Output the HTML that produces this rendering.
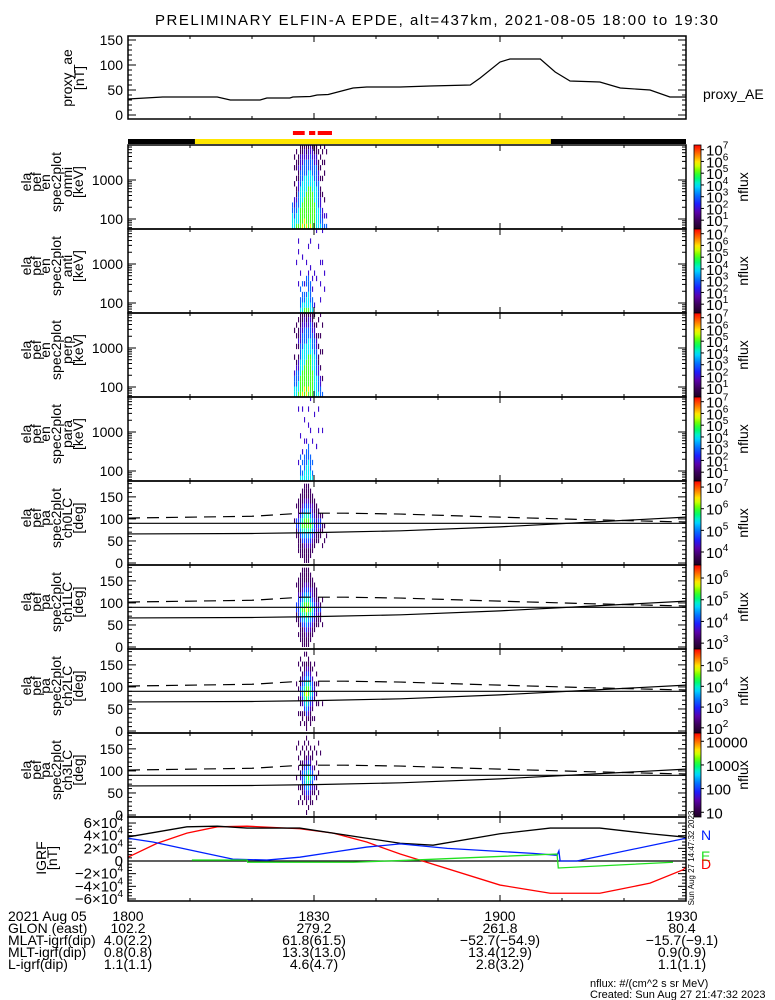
<!DOCTYPE html>
<html><head><meta charset="utf-8"><style>
html,body{margin:0;padding:0;background:#fff;width:775px;height:1000px;overflow:hidden}
svg{display:block;font-family:"Liberation Sans",sans-serif}
</style></head><body>
<svg id="chart" xmlns="http://www.w3.org/2000/svg" width="775" height="1000" viewBox="0 0 775 1000"></svg>
<script>
// ---------- DATA ----------
const aeTimes = [0,5.6,14.4,16.5,21.3,22.4,26.1,26.6,29.4,30.5,32.3,36.3,38.5,43.9,48.7,55.2,56.8,60,61.6,66.5,68.9,71.3,76.1,79.4,84.2,87.4,90];
const aeValues = [32,36,36,30,30,34,34,36,37,40,41,54,56,56,58,60,74,106,112,112,86,68,66,54,50,36,36];
const aeTicks = [0,50,100,150];
const dayNightTimes = [0,10.8,68.2,90];
const dayNightStates = ['night','day','night'];
const sciZoneStart = [26.6,29.2,30.6];
const sciZoneEnd = [28.5,30.2,32.9];
const colTimes = [26.45,26.77,27.10,27.42,27.74,28.06,28.39,28.71,29.03,29.35,29.68,30.00,30.32,30.65,30.97,31.29,31.61,31.94];
const energyEdges = [55,75,103,141,193,265,363,498,682,935,1282,1758,2410,3304,4530,6210,8514];
const paEdges = [0,11.25,22.5,33.75,45,56.25,67.5,78.75,90,101.25,112.5,123.75,135,146.25,157.5,168.75,180];
// energy spectra: each string = one time column, chars top(high E) to bottom(low E), digit = log10(nflux)
const specOmni = ["...........33444","..1.1..1..223344",".1.11.1.11233445","..11211223334445","1122233344445555","1122333444455556","1223334444555565","1123334445555556","1223344455555555","2233344455555556","1223334445555555","1122333444455555","1122333344444444",".1.1122333334444","1.1.1.1.11223334",".1.1..1..1..2233","1..1.1....1..2.3",".1...........2.3"];
const specAnti = ["................","................","......2.........","..2.2.....2.....","........2..3.334",".....2....3.3344","..........2.3345","......2..33.3445","...2....23334445","..2....2..333344",".........2.2.334","........2.....2.","2........2......","...2............","......2...2..2..","2.....2.........","........2..2....","................"];
const specPerp = ["................","...1....1..23344","..1.1.1..1233344",".1.1121.12233445","1112223334445555","1122333444455556","1223334444555565","1123334445555556","1223344455555565","1233344455555555","1122333444455555","1.12233344444444","..1.122333334444",".1..1.1.11223334","1...1..1..1.2233","..1....1....1..3","................","................"];
const specPara = ["................","................","................","..2.........2...",".......2...3.334","..2.......2.3.34","....2...2..33344","........2.333444","..2..2...3334444","2.....2....33344","........2...3.34","...2............",".........2......","..2...2.........","................","......2.........","................","................"];
// pitch-angle spectra: chars top(180deg) to bottom(0deg), digit = position on panel colour scale (d/9)
const paCh0 = ["................",".......1........","....1..3311.....","...11123331111..","..1112345431111.",".11123456543111.","1112345665432111","1112345665432111","1112345665432111",".11123456543211.","..112234543211..","...1112333211...","....11122211....",".....1233211....","......13311.....","......1.11..1...","........1..1....","..........1....."];
const paCh1 = ["................","................","...1...3311.....","..1112333311.1..",".11112345431111.","1111234565431111","1112345665432111","1112345676543211","1112345665432111",".11123456543211.","..112234543211..","...1112333211...","....11122211....","......123211....",".......1311.....","......1....1....","................","................"];
const paCh2 = ["................","................","......1.........","..1....1.1..1...",".1.1.113311.1.1.","..1.1234432.11..","1.11234565431.1.","1.12345676543111",".1123456654321..","..1123455432111.","...1.2334321.1..","..1...1221...1..","....1.1.1.1.....","......1...1.....","................","..........1....."];
const paCh3 = ["................","................","..1.....1.......",".1..1.1...1..1..","...1.1.12.1.1...","..1..1133311.1..",".1.1123444321...","1.1.1234554321.1",".1.1234565432.1.","..1.1234543211..","...11.234321.1..","..1...1.3.21....","...1.1..1.1.1...",".1.....1...1....","...1............","................"];
// IGRF field components, units of 1e4 nT
const igrfTTimes = [0,9.5,14.4,19.2,27.7,38.5,43.9,49.2,60,68.1,76.1,84.2,89.5,90];
const igrfT = [3.8,5.4,5.5,5.2,5.2,3.6,2.8,2.5,4.3,5.2,5.2,4.3,3.8,3.7];
const igrfNTimes = [0,4,11.6,16.9,22.4,27.7,33.1,38.5,43.9,51.5,65.3,69.2,69.5,69.7,72.4,89.5,90];
const igrfN = [3.6,3.0,1.4,0.3,0.15,0.6,1.4,2.2,2.7,2.0,1.2,0.9,1.6,0.0,0.0,3.5,3.6];
const igrfETimes = [10.3,19.2,19.3,36.3,46,69.2,69.4,87.9];
const igrfE = [0.15,0.15,-0.2,-0.2,0.15,1.1,-1.1,-0.2];
const igrfDTimes = [0,4.7,9.5,14.4,19.2,27.7,33.1,38.5,43.9,60,68.1,76.1,84.2,89.5,90];
const igrfD = [0.6,2.8,4.4,5.4,5.5,5.1,4.4,3.0,1.1,-3.8,-5.1,-5.1,-3.5,-1.4,-1.0];
const igrfTicks = [-6,-4,-2,0,2,4,6];
// loss cone / anti loss cone (deg)
const lcTimes = [0,20,30,44,60,75,90];
const lcValues = [66,67,69,73,82,93,104];
const alcTimes = [0,20,28,35,44,60,75,90];
const alcValues = [102,106,113,113,111,104,98,93];
const paTicks = [0,50,100,150];
const xTickTimes = [0,30,60,90];
const orbitLabels = ["2021 Aug 05","GLON (east)","MLAT-igrf(dip)","MLT-igrf(dip)","L-igrf(dip)"];
const orbitCol0 = ["1800","102.2","4.0(2.2)","0.8(0.8)","1.1(1.1)"];
const orbitCol1 = ["1830","279.2","61.8(61.5)","13.3(13.0)","4.6(4.7)"];
const orbitCol2 = ["1900","261.8","-52.7(-54.9)","13.4(12.9)","2.8(3.2)"];
const orbitCol3 = ["1930","80.4","-15.7(-9.1)","0.9(0.9)","1.1(1.1)"];

// ---------- LAYOUT ----------
const NS='http://www.w3.org/2000/svg';
const svg=document.getElementById('chart');
const X0=128, X1=686, TMAX=90;
function xT(t){return X0+(t/TMAX)*(X1-X0);}
function mk(tag,attrs,parent){const e=document.createElementNS(NS,tag);for(const k in attrs)e.setAttribute(k,attrs[k]);(parent||svg).appendChild(e);return e;}
function cmap(f){
  const st=[[0,[30,0,35]],[0.1,[60,0,90]],[0.2,[90,0,170]],[0.3,[30,30,255]],[0.42,[0,130,255]],[0.52,[0,230,255]],[0.62,[0,255,80]],[0.7,[120,255,0]],[0.78,[255,255,0]],[0.88,[255,130,0]],[1,[255,0,0]]];
  f=Math.max(0,Math.min(1,f));
  for(let i=1;i<st.length;i++){if(f<=st[i][0]){const a=st[i-1],b=st[i],u=(f-a[0])/(b[0]-a[0]);
    return 'rgb('+a[1].map((c,k)=>Math.round(c+(b[1][k]-c)*u)).join(',')+')';}}
  return 'rgb(255,0,0)';
}
let bg=mk('rect',{x:0,y:0,width:775,height:1000,fill:'#fff'});



let title=mk('text',{x:155,y:25,'font-size':15,textLength:563});
title.textContent='PRELIMINARY ELFIN-A EPDE, alt=437km, 2021-08-05 18:00 to 19:30';



function ticksX(g,top,bot){
  for(let t=0;t<=90;t+=10){const major=(t%30===0);const L=major?6:3;const x=xT(t);
    mk('line',{x1:x,x2:x,y1:bot,y2:bot-L,stroke:'#000','stroke-width':1},g);
    mk('line',{x1:x,x2:x,y1:top,y2:top+L,stroke:'#000','stroke-width':1},g);}
}
function ytick(g,y,L){mk('line',{x1:X0,x2:X0+L,y1:y,y2:y,stroke:'#000'},g);mk('line',{x1:X1,x2:X1-L,y1:y,y2:y,stroke:'#000'},g);}
function leftTitle(g,lines,cy,xs){lines.forEach((s,i)=>{const t=mk('text',{transform:'translate('+(xs[i]+4)+','+cy+') rotate(-90)','text-anchor':'middle','font-size':14},g);t.textContent=s;});}
function yLabel(g,y,s){const t=mk('text',{x:123,y:y+5,'text-anchor':'end','font-size':14},g);t.textContent=s;}

// ---- AE panel
const aeG=mk('g',{});


const aeTop=36, aeBot=119;
function yAE(v){return 115-(v)*0.5;}
for(let v=0;v<=150;v+=10)ytick(aeG,yAE(v),(v%50===0)?8:4);
aeTicks.forEach(v=>yLabel(aeG,yAE(v),String(v)));
ticksX(aeG,aeTop,aeBot);
let aeLine=mk('polyline',{points:aeTimes.map((t,i)=>xT(t)+','+yAE(aeValues[i])).join(' '),fill:'none',stroke:'#000','stroke-width':1.2},aeG);


mk('rect',{x:X0,y:aeTop,width:X1-X0,height:aeBot-aeTop,fill:'none',stroke:'#000','stroke-width':1.5},aeG);
leftTitle(aeG,['proxy_ae','[nT]'],78,[68,80]);
let aeLeg=mk('text',{x:703,y:99,'font-size':14},aeG);aeLeg.textContent='proxy_AE';



// ---- day/night and science zone bars
for(let i=0;i<dayNightStates.length;i++){
  const r=mk('rect',{x:xT(dayNightTimes[i]),y:139,width:xT(dayNightTimes[i+1])-xT(dayNightTimes[i]),height:5,fill:dayNightStates[i]==='day'?'#ffe600':'#000'});
  
  
}
for(let i=0;i<sciZoneStart.length;i++){
  const r=mk('rect',{x:xT(sciZoneStart[i]),y:131,width:xT(sciZoneEnd[i])-xT(sciZoneStart[i]),height:4,fill:'#f00'});
  
  
}

// ---- spectrogram panels
const panels=[
 {name:'omni',kind:'en',top:145,data:specOmni,lo:0.25,hi:7.4},
 {name:'anti',kind:'en',top:229,data:specAnti,lo:0.25,hi:7.4},
 {name:'perp',kind:'en',top:313,data:specPerp,lo:0.25,hi:7.4},
 {name:'para',kind:'en',top:397,data:specPara,lo:0.25,hi:7.4},
 {name:'ch0LC',kind:'pa',top:481,data:paCh0,lo:3.4,hi:7.28},
 {name:'ch1LC',kind:'pa',top:565,data:paCh1,lo:2.73,hi:6.6},
 {name:'ch2LC',kind:'pa',top:649,data:paCh2,lo:1.75,hi:5.8},
 {name:'ch3LC',kind:'pa',top:733,data:paCh3,lo:0.8,hi:4.35}
];
const H=84;
let defs=mk('defs',{});
let grad=mk('linearGradient',{id:'cbar',x1:0,y1:1,x2:0,y2:0},defs);
for(let i=0;i<=20;i++)mk('stop',{offset:i/20,'stop-color':cmap(i/20)},grad);

panels.forEach((p,pi)=>{
  const g=mk('g',{});
  
  
  const top=p.top,bot=top+H;
  let yF;
  if(p.kind==='en'){const a=Math.log10(55.4),b=Math.log10(7890);yF=v=>bot-(Math.log10(v)-a)/(b-a)*H;}
  else{yF=v=>bot-(v+4.5)/190.5*H;}
  const cp=mk('clipPath',{id:'cp'+pi},defs);mk('rect',{x:X0,y:top,width:X1-X0,height:H},cp);
  const cells=mk('g',{'clip-path':'url(#cp'+pi+')'},g);
  const edges=p.kind==='en'?energyEdges:paEdges;
  p.data.forEach((col,i)=>{
    const x=xT(colTimes[i]);const w=(i<colTimes.length-1?xT(colTimes[i+1]):xT(colTimes[i]+0.32))-x;
    for(let j=0;j<col.length;j++){const c=col[j];if(c==='.')continue;const d=+c;
      const b=col.length-1-j;
      const f=p.kind==='en'?(d-p.lo)/(p.hi-p.lo):d/9;
      const r=mk('rect',{x:x,y:yF(edges[b+1]),width:Math.max(1,w-0.9),height:yF(edges[b])-yF(edges[b+1]),fill:cmap(f)},cells);
      
      
    }
  });
  if(p.kind==='en'){
    [60,70,80,90,100,200,300,400,500,600,700,800,900,1000,2000,3000,4000,5000,6000,7000].forEach(v=>ytick(g,yF(v),(v===100||v===1000)?8:4));
    yLabel(g,yF(1000),'1000');yLabel(g,yF(100),'100');
    leftTitle(g,['ela','pef','en','spec2plot',p.name,'[keV]'],top+H/2-5,[27,37,46,57,68,79]);
  } else {
    for(let v=0;v<=180;v+=10)ytick(g,yF(v),(v%50===0)?8:4);
    paTicks.forEach(v=>yLabel(g,yF(v),String(v)));
    mk('line',{x1:X0,x2:X1,y1:yF(90),y2:yF(90),stroke:'#000','stroke-width':1.2},g);
    const lc=mk('polyline',{points:lcTimes.map((t,i)=>xT(t)+','+yF(lcValues[i])).join(' '),fill:'none',stroke:'#000','stroke-width':1.2},g);
    
    
    const alc=mk('polyline',{points:alcTimes.map((t,i)=>xT(t)+','+yF(alcValues[i])).join(' '),fill:'none',stroke:'#000','stroke-width':1.2,'stroke-dasharray':'12,7'},g);
    
    
    leftTitle(g,['ela','pef','pa','spec2plot',p.name,'[deg]'],top+H/2-5,[27,37,46,57,68,79]);
  }
  ticksX(g,top,bot);
  mk('rect',{x:X0,y:top,width:X1-X0,height:H,fill:'none',stroke:'#000','stroke-width':1.5},g);
  const cb=mk('rect',{x:694,y:top,width:7,height:H,fill:'url(#cbar)',stroke:'#000','stroke-width':0.8});
  
  
  const yC=v=>bot-(v-p.lo)/(p.hi-p.lo)*H;
  for(let e=Math.ceil(p.lo);e<=Math.floor(p.hi);e++){
    const y=yC(e);
    mk('line',{x1:701,x2:704,y1:y,y2:y,stroke:'#000'});
    const t=mk('text',{x:706,y:y+6,'font-size':15});
    if(pi===7){t.textContent=String(Math.pow(10,e));}
    else{t.textContent='10';const s=mk('tspan',{'font-size':10,dy:-7},t);s.textContent=String(e);}
  }
  const nf=mk('text',{transform:'translate(748,'+(top+H/2)+') rotate(-90)','text-anchor':'middle','font-size':14});
  nf.textContent='nflux';
  
  
});

// ---- IGRF panel
const ig=mk('g',{});


const igTop=817,igBot=901;
function yI(v){return 861-v*6.33;}
for(let v=-6;v<=6;v+=0.5)ytick(ig,yI(v),(v%2===0)?8:4);
igrfTicks.forEach(v=>{const t=mk('text',{x:123,y:yI(v)+5,'text-anchor':'end','font-size':15},ig);
  if(v===0)t.textContent='0';else{t.textContent=(v<0?'\u2212':'')+Math.abs(v)+'\u00d710';const s=mk('tspan',{'font-size':10,dy:-7},t);s.textContent='4';}});
mk('line',{x1:X0,x2:X1,y1:yI(0),y2:yI(0),stroke:'#000','stroke-width':1.2},ig);
[[igrfDTimes,igrfD,'#ff0000','igrf-d-line'],[igrfTTimes,igrfT,'#000','igrf-total-line'],[igrfNTimes,igrfN,'#0020ff','igrf-n-line'],[igrfETimes,igrfE,'#20e020','igrf-e-line']].forEach(s=>{
  const l=mk('polyline',{points:s[0].map((t,i)=>xT(t)+','+yI(s[1][i])).join(' '),fill:'none',stroke:s[2],'stroke-width':1.3},ig);
  
  
});
ticksX(ig,igTop,igBot);
mk('rect',{x:X0,y:igTop,width:X1-X0,height:igBot-igTop,fill:'none',stroke:'#000','stroke-width':1.5},ig);
leftTitle(ig,['IGRF','[nT]'],858,[42,53]);
[['N','#0020ff',840],['E','#20e020',861],['D','#ff0000',869]].forEach(s=>{const t=mk('text',{x:701,y:s[2],'font-size':14,fill:s[1]});t.textContent=s[0];
  
  });
let stamp=mk('text',{transform:'translate(694,858) rotate(-90)','text-anchor':'middle','font-size':8});
stamp.textContent='Sun Aug 27 14:47:32 2023';

// ---- orbit text
const rowsY=[921,933,945,957,969];
const og=mk('g',{'font-size':14});


orbitLabels.forEach((s,i)=>{const t=mk('text',{x:8,y:rowsY[i]},og);t.textContent=s;});
[orbitCol0,orbitCol1,orbitCol2,orbitCol3].forEach((col,k)=>{col.forEach((s,i)=>{const t=mk('text',{x:xT(xTickTimes[k])+(k===3?-4:0),y:rowsY[i],'text-anchor':'middle'},og);t.textContent=s.replace(/-/g,'\u2212');});});
let f1=mk('text',{x:590,y:987,'font-size':11});f1.textContent='nflux: #/(cm^2 s sr MeV)';


let f2=mk('text',{x:590,y:998,'font-size':11});f2.textContent='Created: Sun Aug 27 21:47:32 2023';


</script>
</body></html>
